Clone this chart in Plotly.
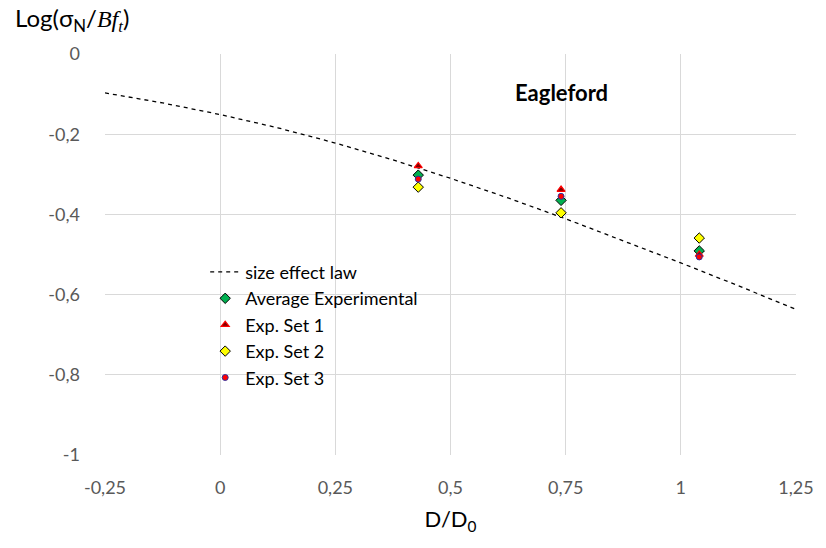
import plotly.graph_objects as go

# Size effect law curve
law_x = [-0.25, -0.125, 0.0, 0.125, 0.25, 0.375, 0.5, 0.625, 0.75, 0.875, 1.0, 1.125, 1.25]
law_y = [-0.097, -0.122, -0.151, -0.184, -0.222, -0.264, -0.310, -0.359, -0.411, -0.465, -0.521, -0.578, -0.637]

exp_x = [0.43, 0.74, 1.04]
avg_y = [-0.302, -0.365, -0.491]
set1_y = [-0.279, -0.338, -0.500]
set2_y = [-0.332, -0.396, -0.459]
set3_y = [-0.312, -0.355, -0.506]

x_ticks = [-0.25, 0, 0.25, 0.5, 0.75, 1, 1.25]
x_tick_labels = ["-0,25", "0", "0,25", "0,5", "0,75", "1", "1,25"]
y_ticks = [0, -0.2, -0.4, -0.6, -0.8, -1]
y_tick_labels = ["0", "-0,2", "-0,4", "-0,6", "-0,8", "-1"]

fig = go.Figure()
fig.add_trace(go.Scatter(x=law_x, y=law_y, mode="lines", name="size effect law",
                         line=dict(color="black", width=1.3, dash="4px,4px")))
fig.add_trace(go.Scatter(x=exp_x, y=avg_y, mode="markers", name="Average Experimental",
                         marker=dict(symbol="diamond", size=8, color="#00B050",
                                     line=dict(color="black", width=1))))
fig.add_trace(go.Scatter(x=exp_x, y=set1_y, mode="markers", name="Exp. Set 1",
                         marker=dict(symbol="triangle-up", size=7, color="#7F0000",
                                     line=dict(color="#FF0000", width=1.2))))
fig.add_trace(go.Scatter(x=exp_x, y=set2_y, mode="markers", name="Exp. Set 2",
                         marker=dict(symbol="diamond", size=8, color="#FFFF00",
                                     line=dict(color="black", width=1))))
fig.add_trace(go.Scatter(x=exp_x, y=set3_y, mode="markers", name="Exp. Set 3",
                         marker=dict(symbol="circle", size=6, color="#FF0000",
                                     line=dict(color="#3030A0", width=1))))

grid = "#D9D9D9"
fig.update_xaxes(range=[-0.25, 1.25], tickvals=x_ticks, ticktext=x_tick_labels,
                 showgrid=True, gridcolor=grid, gridwidth=1, zeroline=False,
                 showline=False, ticks="", ticklabelstandoff=20,
                 tickfont=dict(family="Lato", size=18, color="#595959"),
                 title=dict(text="D/D<sub>0</sub>", font=dict(family="Lato", size=22, color="black"),
                            standoff=14))
fig.update_yaxes(range=[-1, 0], tickvals=y_ticks, ticktext=y_tick_labels,
                 showgrid=True, gridcolor=grid, gridwidth=1, zeroline=False,
                 showline=False, ticks="", ticklabelstandoff=24,
                 tickfont=dict(family="Lato", size=18, color="#595959"))

fig.add_annotation(xref="paper", yref="paper", x=-0.133, y=1.04, xanchor="left", yanchor="bottom",
                   text="Log(σ<sub>N</sub>/<i><span style='font-family:Liberation Serif'>Bf<sub>t</sub></span></i>)",
                   showarrow=False,
                   font=dict(family="Lato", size=24, color="black"))
fig.add_annotation(xref="x", yref="y", x=0.74, y=-0.097, xanchor="center", yanchor="middle",
                   text="<b>Eagleford</b>", showarrow=False,
                   font=dict(family="Lato", size=22, color="black"))

fig.update_layout(
    width=826, height=548,
    margin=dict(l=105, r=28, t=54, b=93),
    plot_bgcolor="white", paper_bgcolor="white",
    legend=dict(x=0.145, y=0.502, xanchor="left", yanchor="top",
                bgcolor="rgba(0,0,0,0)", font=dict(family="Lato", size=18, color="black"),
                itemwidth=30, tracegroupgap=0),
    showlegend=True,
)

fig.write_html("out.html")
